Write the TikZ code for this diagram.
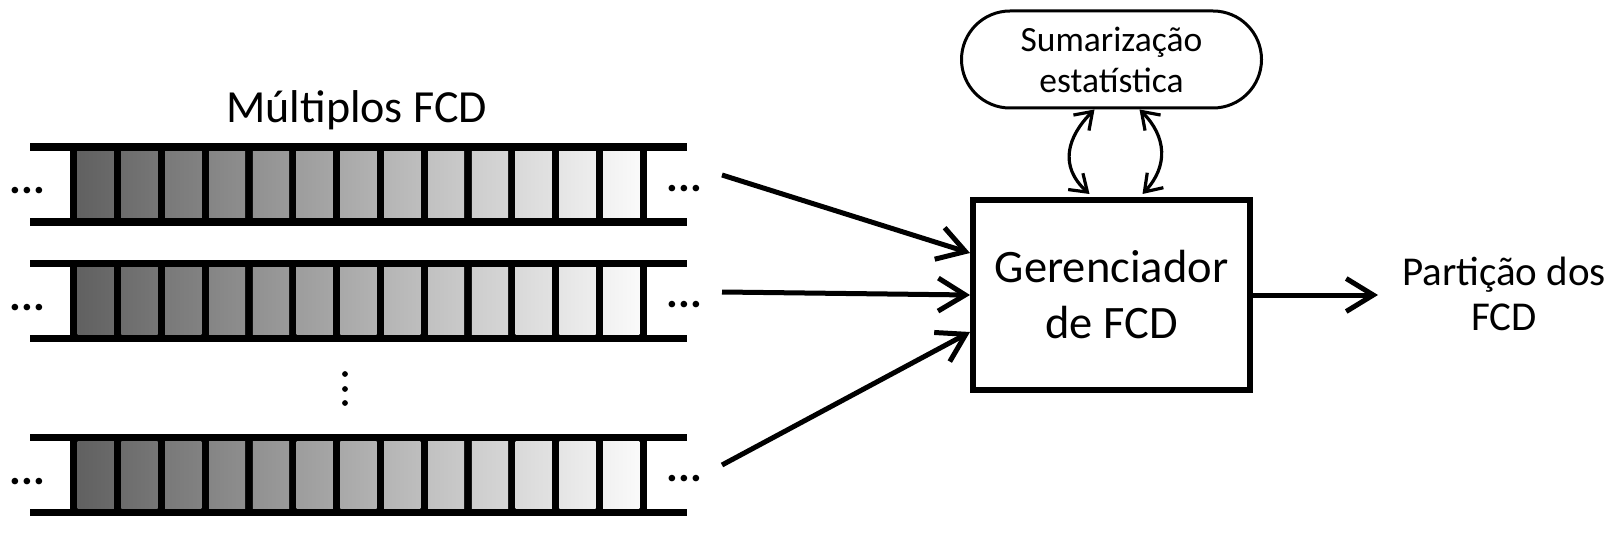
\documentclass[tikz,border=0pt]{standalone}
\usepackage{fontspec}
\setmainfont{Carlito}
\usetikzlibrary{arrows.meta,shapes.misc,calc}
\begin{document}
\begin{tikzpicture}[x=1pt,y=-1pt,
  rail/.style={line width=7.3pt},
  flow/.style={line width=5pt,-{Straight Barb[length=27pt,width=33pt]}},
  dbl/.style={line width=3.2pt,{Straight Barb[length=16pt,width=22pt]}-{Straight Barb[length=16pt,width=22pt]}},
  dots/.style={inner sep=0pt,font=\bfseries\fontsize{44}{48}\selectfont},
]
\useasboundingbox (0,0) rectangle (1619,537);

\foreach \cy/\nm in {184.5/a,300.8/b,475/c}{
  \fill (70,\cy-37.5) rectangle (647,\cy+37.5);
  \foreach \k in {0,...,12}{
    \pgfmathsetmacro\lv{38+4.7*\k}
    \pgfmathsetmacro\rv{\lv+3.5}
    \colorlet{cl}{white!\lv!black}
    \colorlet{cr}{white!\rv!black}
    \shade[left color=cl,right color=cr] ({77.6+43.8*\k},\cy-33.85) rectangle ({113.8+43.8*\k},\cy+33.85);
  }
  \draw[rail] (30,\cy-37.5) -- (687,\cy-37.5) (30,\cy+37.5) -- (687,\cy+37.5);
  \node[dots] (l\nm) at (27.7,\cy+6.5) {.\kern0.3pt.\kern0.3pt.};
  \node[dots] (r\nm) at (684.3,\cy+4) {.\kern0.3pt.\kern0.3pt.};
}

\foreach \yy in {374,389,403}{\fill (345,\yy) circle[radius=2.9pt];}

\node[font=\fontsize{46}{52}\selectfont,anchor=base,inner sep=0pt] (title) at (356.7,123) {Múltiplos FCD};

\node[draw,line width=6pt,minimum width=277pt,minimum height=190pt,align=center,
  font=\fontsize{46.5}{56}\selectfont] (box) at (1111.5,295) {Gerenciador\\de FCD};

\node[draw,rounded rectangle,line width=3pt,minimum width=300pt,minimum height=97pt,
  align=center,inner sep=0pt,font=\fontsize{35.5}{41}\selectfont] (sum) at (1111.5,59.5) {Sumarização\\estatística};

\node[align=center,font=\fontsize{41}{45}\selectfont] (out) at (1504,294) {Partição dos\\FCD};

\coordinate (a1) at (722,175);
\coordinate (b1) at (722,292);
\coordinate (c1) at (722,465);
\coordinate (tipo) at (1378,295);

\draw[flow] (a1) -- ($(box.west)+(0,-42)$);
\draw[flow] (b1) -- (box.west);
\draw[flow] (c1) -- ($(box.west)+(0,37)$);
\draw[flow] (box.east) -- (tipo);

\draw[dbl] ($(sum.south)+(-17,0)$) .. controls +(-27,27) and +(-31,-28) .. ($(box.north)+(-22,-3)$);
\draw[dbl] ($(sum.south)+(28,0)$) .. controls +(27,27) and +(26,-28) .. ($(box.north)+(31,-3)$);
\end{tikzpicture}
\end{document}
